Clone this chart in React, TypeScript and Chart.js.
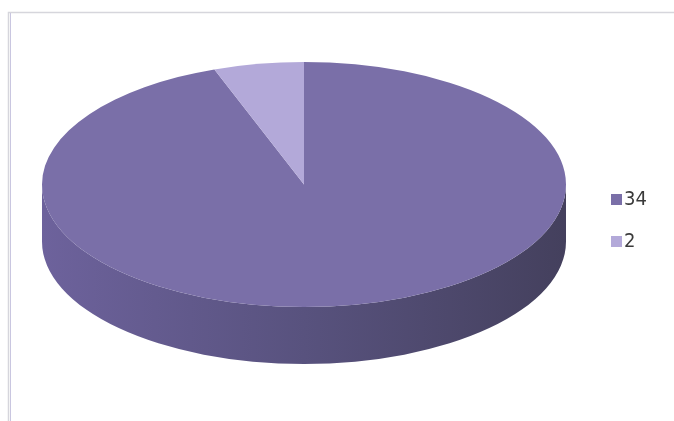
import React, { useEffect, useRef } from "react";
import { Chart, registerables } from "chart.js";

Chart.register(...registerables);

const labels = ["34", "2"];
const values = [34, 2];
const topColors = ["#7a6fa8", "#b3a9d9"];
const sideStops = [
  ["#6d629c", "#58527e", "#44405d"],
  ["#9d93c4", "#847ca8", "#6a6488"],
];

const W = 674;
const H = 421;
const DEPTH = 57;

const pie3d = {
  id: "pie3d",
  beforeDraw(chart: any) {
    const ctx = chart.ctx;
    ctx.save();
    ctx.fillStyle = "#ffffff";
    ctx.fillRect(0, 0, W, H);
    ctx.strokeStyle = "#d6d6dc";
    ctx.lineWidth = 1.5;
    ctx.strokeRect(8.5, 12.5, 720, 520);
    ctx.strokeStyle = "#c9c6e0";
    ctx.lineWidth = 1;
    ctx.beginPath();
    ctx.moveTo(10.5, 13);
    ctx.lineTo(10.5, H);
    ctx.stroke();
    ctx.restore();
  },
  beforeDatasetsDraw(chart: any) {
    const ctx = chart.ctx;
    const meta = chart.getDatasetMeta(0);
    const area = chart.chartArea;
    const rx = (area.right - area.left) / 2;
    const ry = (area.bottom - area.top) / 2;
    const arcs = meta.data as any[];
    ctx.save();
    // sides
    arcs.forEach((arc, i) => {
      const cx = arc.x;
      const cy = arc.y;
      const s = arc.startAngle;
      const e = arc.endAngle;
      const stops = sideStops[i % sideStops.length];
      for (let k = -1; k <= 1; k++) {
        const a0 = Math.max(s, 2 * Math.PI * k);
        const a1 = Math.min(e, Math.PI + 2 * Math.PI * k);
        if (a1 <= a0) continue;
        const g = ctx.createLinearGradient(cx - rx, 0, cx + rx, 0);
        g.addColorStop(0, stops[0]);
        g.addColorStop(0.5, stops[1]);
        g.addColorStop(1, stops[2]);
        ctx.beginPath();
        ctx.ellipse(cx, cy, rx, ry, 0, a0, a1, false);
        ctx.lineTo(cx + rx * Math.cos(a1), cy + DEPTH + ry * Math.sin(a1));
        ctx.ellipse(cx, cy + DEPTH, rx, ry, 0, a1, a0, true);
        ctx.closePath();
        ctx.fillStyle = g;
        ctx.fill();
      }
    });
    // tops
    arcs.forEach((arc, i) => {
      const cx = arc.x;
      const cy = arc.y;
      ctx.beginPath();
      ctx.moveTo(cx, cy);
      ctx.ellipse(cx, cy, rx, ry, 0, arc.startAngle, arc.endAngle, false);
      ctx.closePath();
      ctx.fillStyle = topColors[i % topColors.length];
      ctx.fill();
    });
    ctx.restore();
    return false;
  },
  afterDraw(chart: any) {
    const ctx = chart.ctx;
    const ds = chart.data.datasets[0];
    const lbls = chart.data.labels as string[];
    ctx.save();
    ctx.font = "20px 'Liberation Sans Narrow', 'DejaVu Sans Condensed', sans-serif";
    ctx.textBaseline = "middle";
    ctx.textAlign = "left";
    lbls.forEach((l, i) => {
      const y = 199 + i * 42;
      ctx.fillStyle = ds.backgroundColor[i];
      ctx.fillRect(611, y - 5, 11, 11);
      ctx.fillStyle = "#3a3a3a";
      ctx.fillText(l, 624, y + 1);
    });
    ctx.restore();
  },
};

export default function App() {
  const ref = useRef<HTMLCanvasElement>(null);
  useEffect(() => {
    if (!ref.current) return;
    const chart = new Chart(ref.current, {
      type: "pie",
      data: {
        labels,
        datasets: [
          {
            data: values,
            backgroundColor: topColors,
            borderWidth: 0,
          },
        ],
      },
      options: {
        responsive: false,
        animation: false,
        devicePixelRatio: 1,
        events: [],
        layout: { padding: { left: 42, right: 674 - 566, top: 62, bottom: 421 - 307 } },
        plugins: {
          legend: { display: false },
          tooltip: { enabled: false },
        },
      },
      plugins: [pie3d],
    });
    return () => chart.destroy();
  }, []);
  return (
    <div style={{ position: "fixed", left: 0, top: 0, width: W, height: H, background: "#fff" }}>
      <canvas ref={ref} width={W} height={H} style={{ display: "block" }} />
    </div>
  );
}
